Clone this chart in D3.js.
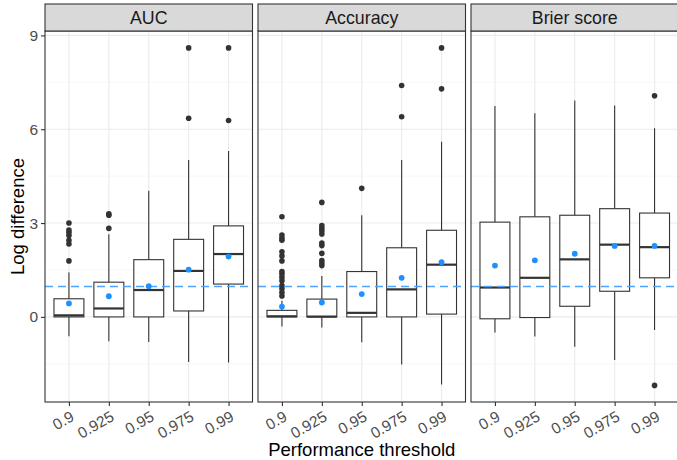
<!DOCTYPE html>
<html>
<head>
<meta charset="utf-8">
<script src="https://cdn.jsdelivr.net/npm/d3@7"></script>
<style>
  body { margin: 0; background: #fff; }
  svg { font-family: "Liberation Sans", Arial, sans-serif; }
</style>
</head>
<body>
<svg id="chart" width="677" height="460"></svg>
<script>
// categories
var thresholds = ["0.9", "0.925", "0.95", "0.975", "0.99"]
var metrics = ["AUC", "Accuracy", "Brier score"]
var yTicks = [0, 3, 6, 9]
var yMinor = [-1.5, 1.5, 4.5, 7.5]
var refLine = 1

// [whisker low, q1, median, q3, whisker high] per threshold
var aucBoxes = [[-0.62, 0, 0.05, 0.58, 1.42], [-0.78, 0, 0.27, 1.11, 2.64], [-0.8, 0, 0.86, 1.83, 4.03], [-1.44, 0.19, 1.47, 2.48, 5.02], [-1.46, 1.05, 2.01, 2.91, 5.3]]
var accBoxes = [[-0.31, 0, 0.02, 0.21, 0.52], [-0.34, 0, 0.01, 0.57, 1.31], [-0.81, 0, 0.13, 1.45, 3.25], [-1.52, 0, 0.88, 2.21, 5.02], [-2.16, 0.09, 1.67, 2.77, 5.6]]
var brierBoxes = [[-0.5, -0.06, 0.94, 3.03, 6.74], [-0.63, -0.02, 1.25, 3.2, 6.51], [-0.95, 0.34, 1.84, 3.25, 6.92], [-1.38, 0.82, 2.31, 3.46, 6.76], [-0.42, 1.25, 2.23, 3.32, 6.03]]

var aucMeans = [0.43, 0.66, 0.98, 1.51, 1.93]
var accMeans = [0.33, 0.46, 0.73, 1.25, 1.75]
var brierMeans = [1.64, 1.81, 2.02, 2.27, 2.27]

var aucOutliers = [[1.79, 2.33, 2.45, 2.6, 2.7, 2.78, 3.0], [2.83, 3.25, 3.3], [], [6.35, 8.6], [6.28, 8.6]]
var accOutliers = [[0.67, 0.78, 0.9, 1.0, 1.16, 1.27, 1.37, 1.45, 1.79, 1.95, 2.08, 2.45, 2.52, 2.62, 3.2], [1.64, 1.72, 1.8, 2.03, 2.28, 2.36, 2.65, 2.75, 2.83, 2.92, 3.66], [4.11], [6.4, 7.4], [7.29, 8.6]]
var brierOutliers = [[], [], [], [], [7.07, -2.19]]

var panelData = [
  { name: metrics[0], boxes: aucBoxes, means: aucMeans, outliers: aucOutliers },
  { name: metrics[1], boxes: accBoxes, means: accMeans, outliers: accOutliers },
  { name: metrics[2], boxes: brierBoxes, means: brierMeans, outliers: brierOutliers }
]

var dims = { left: 45, panelWidth: 207.5, gap: 5.5, stripTop: 4, top: 31, bottom: 402 }

var svg = d3.select("#chart")

var yScale = d3.scaleLinear()
  .domain([-2.72, 9.14])
  .range([dims.bottom, dims.top])

var xScale = d3.scalePoint()
  .domain(thresholds)
  .range([0, dims.panelWidth])
  .padding(0.6)

var boxW = xScale.step() * 0.75

panelData.forEach(function (p, pi) {
  var x0 = dims.left + pi * (dims.panelWidth + dims.gap)
  var g = svg.append("g").attr("transform", "translate(" + x0 + ",0)")

  // grid
  g.selectAll(".minor").data(yMinor).enter().append("line")
    .attr("x1", 0).attr("x2", dims.panelWidth)
    .attr("y1", function (d) { return yScale(d) }).attr("y2", function (d) { return yScale(d) })
    .attr("stroke", "#f2f2f2").attr("stroke-width", 0.6)
  g.selectAll(".major").data(yTicks).enter().append("line")
    .attr("x1", 0).attr("x2", dims.panelWidth)
    .attr("y1", function (d) { return yScale(d) }).attr("y2", function (d) { return yScale(d) })
    .attr("stroke", "#ebebeb").attr("stroke-width", 1.1)
  g.selectAll(".vgrid").data(thresholds).enter().append("line")
    .attr("x1", function (d) { return xScale(d) }).attr("x2", function (d) { return xScale(d) })
    .attr("y1", dims.top).attr("y2", dims.bottom)
    .attr("stroke", "#ebebeb").attr("stroke-width", 1.1)

  var boxes = g.selectAll(".box").data(p.boxes).enter().append("g")
    .attr("transform", function (d, i) { return "translate(" + xScale(thresholds[i]) + ",0)" })

  // whiskers
  boxes.append("line")
    .attr("y1", function (d) { return yScale(d[0]) }).attr("y2", function (d) { return yScale(d[1]) })
    .attr("stroke", "#333").attr("stroke-width", 1.1)
  boxes.append("line")
    .attr("y1", function (d) { return yScale(d[3]) }).attr("y2", function (d) { return yScale(d[4]) })
    .attr("stroke", "#333").attr("stroke-width", 1.1)
  boxes.append("rect")
    .attr("x", -boxW / 2).attr("width", boxW)
    .attr("y", function (d) { return yScale(d[3]) })
    .attr("height", function (d) { return yScale(d[1]) - yScale(d[3]) })
    .attr("fill", "#fff").attr("stroke", "#333").attr("stroke-width", 1.1)
  boxes.append("line")
    .attr("x1", -boxW / 2).attr("x2", boxW / 2)
    .attr("y1", function (d) { return yScale(d[2]) }).attr("y2", function (d) { return yScale(d[2]) })
    .attr("stroke", "#333").attr("stroke-width", 2.2)

  // outliers
  p.outliers.forEach(function (arr, i) {
    g.selectAll(null).data(arr).enter().append("circle")
      .attr("cx", xScale(thresholds[i]))
      .attr("cy", function (d) { return yScale(d) })
      .attr("r", 2.8)
      .attr("fill", "#333")
  })

  // reference line
  g.append("line")
    .attr("x1", 0).attr("x2", dims.panelWidth)
    .attr("y1", Math.round(yScale(refLine)) + 0.5).attr("y2", Math.round(yScale(refLine)) + 0.5)
    .attr("stroke", "#4ea3ff").attr("stroke-width", 1.6)
    .attr("stroke-dasharray", "8,5")

  // means
  g.selectAll(".mean").data(p.means).enter().append("circle")
    .attr("cx", function (d, i) { return xScale(thresholds[i]) })
    .attr("cy", function (d) { return yScale(d) })
    .attr("r", 2.9)
    .attr("fill", "#1e90ff")

  // panel border
  g.append("rect")
    .attr("x", 0).attr("y", dims.top)
    .attr("width", dims.panelWidth).attr("height", dims.bottom - dims.top)
    .attr("fill", "none").attr("stroke", "#333").attr("stroke-width", 1.1)

  // strip
  g.append("rect")
    .attr("x", 0).attr("y", dims.stripTop)
    .attr("width", dims.panelWidth).attr("height", dims.top - dims.stripTop)
    .attr("fill", "#d9d9d9").attr("stroke", "#333").attr("stroke-width", 1.1)
  g.append("text")
    .attr("x", dims.panelWidth / 2).attr("y", (dims.stripTop + dims.top) / 2)
    .attr("dy", "0.36em")
    .attr("text-anchor", "middle")
    .attr("font-size", 17.8)
    .attr("fill", "#1a1a1a")
    .text(p.name)

  // x axis
  var xAxis = g.append("g")
    .attr("transform", "translate(0," + dims.bottom + ")")
    .call(d3.axisBottom(xScale).tickSize(4).tickPadding(3))
  xAxis.select(".domain").remove()
  xAxis.selectAll("line").attr("stroke", "#333").attr("stroke-width", 1.1)
  xAxis.selectAll("text")
    .attr("font-size", 15.5)
    .attr("fill", "#4d4d4d")
    .attr("text-anchor", "end")
    .attr("dy", "0.72em")
    .attr("transform", "rotate(-30, 2, 7)")
})

// y axis (left of first panel)
var yAxis = svg.append("g")
  .attr("transform", "translate(" + dims.left + ",0)")
  .call(d3.axisLeft(yScale).tickValues(yTicks).tickSize(4).tickPadding(3))
yAxis.select(".domain").remove()
yAxis.selectAll("line").attr("stroke", "#333").attr("stroke-width", 1.1)
yAxis.selectAll("text").attr("font-size", 15.5).attr("fill", "#4d4d4d")

// axis titles
svg.append("text")
  .attr("x", dims.left + (3 * dims.panelWidth + 2 * dims.gap) / 2)
  .attr("y", 456)
  .attr("text-anchor", "middle")
  .attr("font-size", 18.5)
  .attr("fill", "#000")
  .text("Performance threshold")

svg.append("text")
  .attr("transform", "translate(24," + (dims.top + dims.bottom) / 2 + ") rotate(-90)")
  .attr("text-anchor", "middle")
  .attr("font-size", 18.5)
  .attr("fill", "#000")
  .text("Log difference")
</script>
</body>
</html>
